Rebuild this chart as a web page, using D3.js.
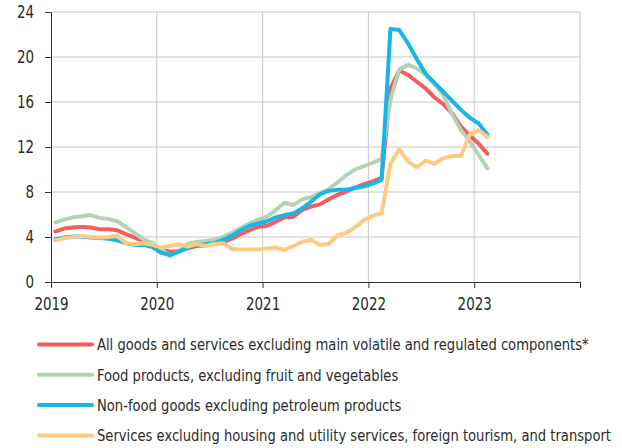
<!DOCTYPE html>
<html lang="en">
<head>
<meta charset="UTF-8">
<title>Core inflation components</title>
<script src="https://d3js.org/d3.v7.min.js"></script>
<style>
  body { margin: 0; background: #fff; }
  text { font-family: "DejaVu Sans Condensed", "Liberation Sans", sans-serif; fill: #2b2b2b; }
</style>
</head>
<body>
<div id="chart"></div>
<script>
	const width = 622, height = 448;
	const margin = {top: 12, left: 51, right: 42, bottom: 166};
	const squeeze = 0.88;

	// monthly values, Jan 2019 .. Feb 2023
	const startYear = 2019;
	const yearTicks = [2019, 2020, 2021, 2022, 2023, 2024];
	const yTicks = [0, 4, 8, 12, 16, 20, 24];

	const seriesNames = [
		"All goods and services excluding main volatile and regulated components*",
		"Food products, excluding fruit and vegetables",
		"Non-food goods excluding petroleum products",
		"Services excluding housing and utility services, foreign tourism, and transport"
	];
	const seriesColors = ["#F75B5B", "#B5D3B4", "#12B8EA", "#FFCA82"];

	const allGoods = [4.5, 4.75, 4.85, 4.9, 4.85, 4.7, 4.7, 4.6, 4.25, 3.95, 3.6, 3.35,
		2.9, 2.7, 2.75, 3.0, 3.2, 3.25, 3.4, 3.55, 3.85, 4.25, 4.6, 4.9,
		5.0, 5.35, 5.75, 5.8, 6.4, 6.7, 6.9, 7.35, 7.75, 8.05, 8.4, 8.7,
		8.95, 9.25, 17.2, 18.8, 18.4, 17.8, 17.2, 16.4, 15.8, 15.0, 13.8, 13.0,
		12.3, 11.4];
	const food = [5.3, 5.55, 5.75, 5.85, 5.95, 5.7, 5.6, 5.4, 4.9, 4.35, 3.8, 3.45,
		2.9, 2.3, 2.75, 3.4, 3.55, 3.65, 3.75, 4.0, 4.35, 4.8, 5.2, 5.55,
		5.8, 6.4, 7.05, 6.85, 7.35, 7.55, 7.9, 8.25, 8.85, 9.5, 10.0, 10.3,
		10.6, 10.95, 16.2, 18.9, 19.3, 19.0, 18.4, 17.6, 16.6, 14.9, 13.5, 12.5,
		11.3, 10.1];
	const nonFood = [3.8, 3.95, 4.05, 4.05, 3.95, 3.9, 3.85, 3.7, 3.45, 3.3, 3.3, 3.1,
		2.6, 2.4, 2.7, 3.05, 3.3, 3.35, 3.45, 3.75, 4.1, 4.6, 5.0, 5.2,
		5.4, 5.75, 5.95, 6.1, 6.55, 7.15, 7.8, 8.1, 8.2, 8.2, 8.35, 8.5,
		8.75, 9.1, 22.5, 22.4, 21.2, 19.8, 18.5, 17.7, 16.9, 16.1, 15.3, 14.6,
		14.1, 13.1];
	const services = [3.7, 3.9, 4.0, 4.1, 4.0, 3.95, 4.0, 4.1, 3.45, 3.35, 3.45, 3.3,
		3.05, 3.2, 3.35, 3.15, 3.38, 3.2, 3.38, 3.44, 2.95, 2.9, 2.88, 2.9,
		2.99, 3.05, 2.85, 3.2, 3.58, 3.73, 3.3, 3.38, 4.15, 4.38, 4.86, 5.5,
		5.9, 6.1, 10.5, 11.8, 10.7, 10.2, 10.8, 10.5, 11.0, 11.2, 11.2, 13.1,
		13.5, 12.9];
	const seriesValues = [allGoods, food, nonFood, services];

	const svg = d3.select("#chart")
		.append("svg")
			.attr("width", width)
			.attr("height", height);

	const xScale = d3.scaleLinear()
		.domain([2019, 2024])
		.range([margin.left, width - margin.right]);
	const yScale = d3.scaleLinear()
		.domain([0, 24])
		.range([height - margin.bottom, margin.top]);

	// grid
	svg.append("g")
		.selectAll("line")
		.data(yTicks.slice(1))
		.join("line")
			.attr("x1", xScale(2019)).attr("x2", xScale(2024))
			.attr("y1", d => yScale(d)).attr("y2", d => yScale(d))
			.attr("stroke", "#c6c6c6").attr("stroke-width", 1);
	svg.append("g")
		.selectAll("line")
		.data(yearTicks.slice(1))
		.join("line")
			.attr("x1", d => xScale(d)).attr("x2", d => xScale(d))
			.attr("y1", yScale(0)).attr("y2", yScale(24))
			.attr("stroke", "#c6c6c6").attr("stroke-width", 1);

	// axes
	const xAxis = svg.append("g")
		.attr("transform", `translate(0, ${yScale(0)})`)
		.call(d3.axisBottom(xScale).tickValues(yearTicks).tickFormat((d, i) => i < 5 ? d : "").tickSize(6).tickPadding(10));
	xAxis.selectAll("text")
		.style("font-size", "17px")
		.attr("transform", `scale(${squeeze}, 1)`);

	const yAxis = svg.append("g")
		.attr("transform", `translate(${margin.left}, 0)`)
		.call(d3.axisLeft(yScale).tickValues(yTicks).tickSize(6));
	yAxis.selectAll("text")
		.style("font-size", "17px")
		.attr("x", -17 / squeeze)
		.attr("transform", `scale(${squeeze}, 1)`);
	svg.selectAll(".domain, .tick line").attr("stroke", "#333");

	// lines
	const line = d3.line()
		.x((d, i) => xScale(startYear + (i + 0.5) / 12))
		.y(d => yScale(d));

	svg.append("g")
		.selectAll("path")
		.data(seriesValues)
		.join("path")
			.attr("d", d => line(d))
			.attr("fill", "none")
			.attr("stroke", (d, i) => seriesColors[i])
			.attr("stroke-width", 4)
			.attr("stroke-linejoin", "round")
			.attr("stroke-linecap", "round");

	// legend
	const legend = svg.append("g")
		.selectAll("g")
		.data(seriesNames)
		.join("g")
			.attr("transform", (d, i) => `translate(0, ${344.5 + i * 30.3})`);
	legend.append("line")
		.attr("x1", 39).attr("x2", 92)
		.attr("stroke", (d, i) => seriesColors[i])
		.attr("stroke-width", 4)
		.attr("stroke-linecap", "round");
	legend.append("text")
		.attr("x", 97 / 0.885)
		.attr("dy", "0.36em")
		.attr("transform", "scale(0.885, 1)")
		.style("font-size", "16.5px")
		.text(d => d);
</script>
</body>
</html>
